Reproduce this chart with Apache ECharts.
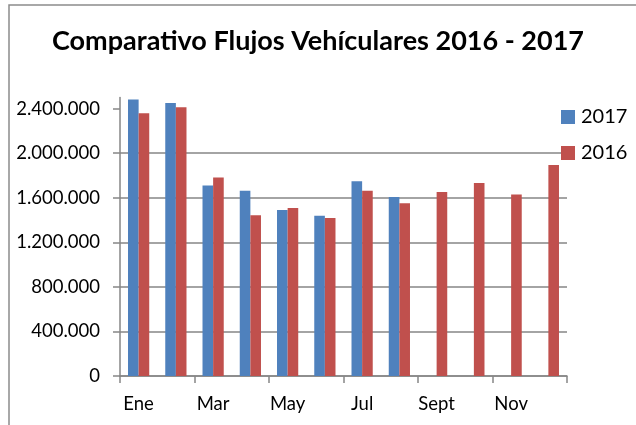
<!DOCTYPE html>
<html>
<head>
<meta charset="utf-8">
<script src="https://cdn.jsdelivr.net/npm/echarts@6/dist/echarts.min.js"></script>
<style>
  html, body { margin: 0; padding: 0; background: #fff; }
</style>
</head>
<body>
<div id="chart" style="width: 636px; height: 425px;"></div>
<script>
const meses = ['Ene', 'Feb', 'Mar', 'Abr', 'May', 'Jun', 'Jul', 'Ago', 'Sept', 'Oct', 'Nov', 'Dic']
const flujos2017 = [2483000, 2450000, 1711000, 1663000, 1490000, 1439000, 1749000, 1606000, null, null, null, null]
const flujos2016 = [2358000, 2412000, 1782000, 1442000, 1508000, 1418000, 1663000, 1550000, 1651000, 1732000, 1630000, 1893000]
const yTicks = [0, 400000, 800000, 1200000, 1600000, 2000000, 2400000]

const fmtMiles = v => String(v).replace(/\B(?=(\d{3})+(?!\d))/g, '.')
const gris = '#868686'
const fuente = 'Lato, "Open Sans", sans-serif'

const myChart = echarts.init(document.getElementById('chart'))
myChart.setOption({
  animation: false,
  title: {
    text: 'Comparativo Flujos Vehículares 2016 - 2017',
    left: 'center',
    top: 28,
    padding: 0,
    textStyle: { fontFamily: fuente, fontWeight: 'bold', fontSize: 27, color: '#000' }
  },
  legend: {
    orient: 'vertical',
    left: 561,
    top: 107,
    icon: 'rect',
    itemWidth: 14,
    itemHeight: 14,
    itemGap: 16,
    padding: 0,
    textStyle: { fontFamily: fuente, fontSize: 20, color: '#000', padding: [0, 0, 0, 1] },
    data: ['2017', '2016']
  },
  grid: { left: 120, right: 69, top: 97.5, bottom: 49 },
  xAxis: {
    type: 'category',
    data: meses,
    axisLine: { lineStyle: { color: gris, width: 1.5 } },
    axisTick: { show: true, length: 7, lineStyle: { color: gris, width: 1.5 } },
    axisLabel: { interval: 1, margin: 19, fontFamily: fuente, fontSize: 18.5, color: '#000' }
  },
  yAxis: {
    type: 'value',
    min: 0,
    max: 2500000,
    interval: 400000,
    axisLine: { show: true, lineStyle: { color: gris, width: 1.5 } },
    axisTick: { show: true, length: 7, customValues: yTicks, lineStyle: { color: gris, width: 1.5 } },
    axisLabel: {
      customValues: yTicks,
      margin: 20,
      fontFamily: fuente,
      fontSize: 18.5,
      color: '#000',
      formatter: fmtMiles
    },
    splitLine: { show: true, showMaxLine: false, lineStyle: { color: gris, width: 1.5 } }
  },
  series: [
    {
      name: '2017',
      type: 'bar',
      data: flujos2017,
      barGap: '0%',
      barCategoryGap: '43%',
      itemStyle: { color: '#4F81BD' }
    },
    {
      name: '2016',
      type: 'bar',
      data: flujos2016,
      barGap: '0%',
      barCategoryGap: '43%',
      itemStyle: { color: '#C0504D' }
    }
  ],
  graphic: [
    {
      type: 'polyline',
      shape: { points: [[9, 425], [9, 5], [636, 5]] },
      style: { stroke: '#8c8c8c', lineWidth: 1.5, fill: null },
      silent: true
    }
  ]
})
</script>
</body>
</html>
